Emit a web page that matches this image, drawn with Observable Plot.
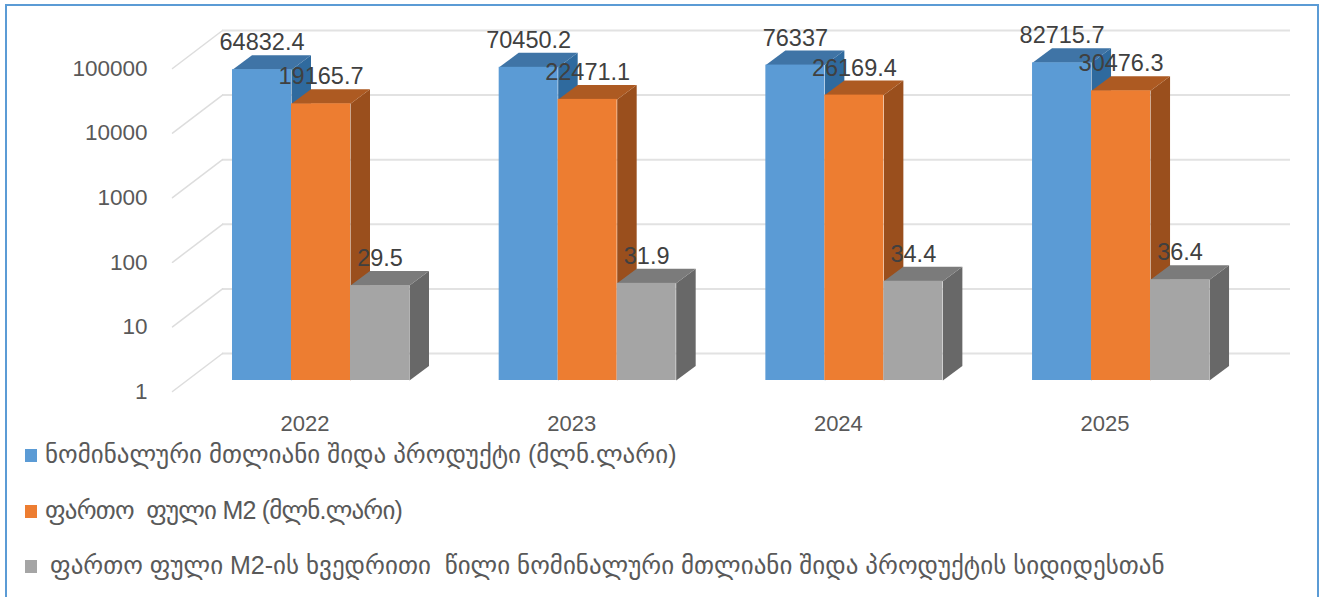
<!DOCTYPE html>
<html>
<head>
<meta charset="utf-8">
<script src="https://cdn.jsdelivr.net/npm/d3@7"></script>
<script src="https://cdn.jsdelivr.net/npm/@observablehq/plot@0.6"></script>
<style>
  html, body { margin: 0; padding: 0; background: #fff; overflow: hidden; }
  #frame { position: absolute; left: 5px; top: 4px; width: 1314px; height: 640px; border: 2px solid #5b9bd5; box-sizing: border-box; }
  #chart { position: absolute; left: 0; top: 0; }
  #chart svg { display: block; overflow: visible; }
  .row { position: absolute; left: 0; white-space: pre; font-family: "Liberation Sans", "DejaVu Sans", sans-serif; font-size: 25px; color: #595959; line-height: 28px; }
  .sw { position: absolute; width: 12px; height: 13px; }
</style>
</head>
<body>
<div id="frame"></div>
<div id="chart"></div>
<div id="legend"></div>
<script>
const years = ["2022", "2023", "2024", "2025"];
const gdp = [64832.4, 70450.2, 76337, 82715.7];
const m2 = [19165.7, 22471.1, 26169.4, 30476.3];
const share = [29.5, 31.9, 34.4, 36.4];
const valueLabels = [
  ["64832.4", "70450.2", "76337", "82715.7"],
  ["19165.7", "22471.1", "26169.4", "30476.3"],
  ["29.5", "31.9", "34.4", "36.4"]
];
const tickValues = [1, 10, 100, 1000, 10000, 100000];
const seriesNames = [
  "ნომინალური მთლიანი შიდა პროდუქტი (მლნ.ლარი)",
  "ფართო  ფული M2 (მლნ.ლარი)",
  "ფართო ფული M2-ის ხვედრითი  წილი ნომინალური მთლიანი შიდა პროდუქტის სიდიდესთან"
];
const frontColors = ["#5b9bd5", "#ed7d31", "#a5a5a5"];
const topColors = ["#3f74a6", "#ad5a22", "#7b7b7b"];
const sideColors = ["#2f6a9e", "#9a4f1d", "#686868"];

// Layout of the pseudo-3D box, in scale units
const pxPerDecade = 64.6, pxPerBar = 59, leftPx = 232, baseY = 380;
const groupStep = 4.52;
const depthX = 19.5 / pxPerBar;
const depthK = Math.pow(10, 14.5 / pxPerDecade);
const wallK = Math.pow(10, 27 / pxPerDecade);
const frontK = Math.pow(10, -11 / pxPerDecade);
const wallLeft = (222 - leftPx) / pxPerBar, wallRight = (1290 - leftPx) / pxPerBar, diagLeft = (172 - leftPx) / pxPerBar;

const series = [gdp, m2, share];
const width = 1319, height = 440, marginLeft = 150;

const barRows = series.map((vals, s) => vals.map((v, g) => ({
  x1: g * groupStep + s, x2: g * groupStep + s + 1, v, label: valueLabels[s][g], s, g
})));

function faces(rows) {
  const top = [], side = [];
  for (const b of rows) {
    const id = b.s + "-" + b.g;
    top.push(
      {id, x: b.x1, y: b.v}, {id, x: b.x2, y: b.v},
      {id, x: b.x2 + depthX, y: b.v * depthK}, {id, x: b.x1 + depthX, y: b.v * depthK});
    side.push(
      {id, x: b.x2, y: 1}, {id, x: b.x2 + depthX, y: depthK},
      {id, x: b.x2 + depthX, y: b.v * depthK}, {id, x: b.x2, y: b.v});
  }
  return {top, side};
}

const barMarks = barRows.flatMap((rows, s) => {
  const f = faces(rows);
  return [
    Plot.line(f.side, {x: "x", y: "y", z: "id", fill: sideColors[s], stroke: "none", curve: "linear"}),
    Plot.line(f.top, {x: "x", y: "y", z: "id", fill: topColors[s], stroke: "none", curve: "linear"}),
    Plot.rect(rows, {x1: "x1", x2: "x2", y1: () => 1, y2: "v", fill: frontColors[s], inset: 0})
  ];
});

const diagRows = tickValues.flatMap(t => [
  {t, x: diagLeft, y: t * frontK}, {t, x: wallLeft, y: t * wallK}
]);

const font = "'Liberation Sans', Arial, sans-serif";
const chart = Plot.plot({
  width, height, marginLeft, marginRight: 0, marginTop: 0, marginBottom: height - baseY,
  style: {background: "transparent", fontFamily: font},
  x: {type: "linear", domain: [(marginLeft - leftPx) / pxPerBar, (width - leftPx) / pxPerBar], label: null},
  y: {type: "log", domain: [1, Math.pow(10, baseY / pxPerDecade)], label: null},
  marks: [
    Plot.ruleY(tickValues, {y: d => d * wallK, x1: wallLeft, x2: wallRight, stroke: "#e2e2e2", strokeWidth: 2}),
    Plot.line(diagRows, {x: "x", y: "y", z: "t", stroke: "#dddddd", strokeWidth: 1.5, curve: "linear"}),
    ...barMarks,
    Plot.axisY({ticks: tickValues, tickFormat: d => String(d), tickSize: 0, tickPadding: 3, dy: 11, label: null,
      fontSize: 22.5, fill: "#595959", fontFamily: font}),
    Plot.axisX({ticks: years.map((_, g) => g * groupStep + 1.5), tickFormat: (d, i) => years[i], tickSize: 0, tickPadding: 35, dx: -16, label: null,
      fontSize: 22, fill: "#595959", fontFamily: font}),
    ...barRows.map(rows => Plot.text(rows, {x: d => (d.x1 + d.x2) / 2, y: "v", text: "label", dy: -27, fontSize: 23.5, fill: "#404040", fontFamily: font}))
  ]
});
document.getElementById("chart").appendChild(chart);

const legendTops = [455, 511, 566], swatchX = 25, textX = [45, 45, 50], rowSpacing = ["0px", "-0.8px", "0px"];
const legend = document.getElementById("legend");
seriesNames.forEach((name, i) => {
  const sw = document.createElement("div");
  sw.className = "sw";
  sw.style.cssText = `left:${swatchX}px;top:${legendTops[i] - 6}px;background:${frontColors[i]}`;
  const t = document.createElement("div");
  t.className = "row";
  t.textContent = name;
  t.style.left = textX[i] + "px";
  t.style.top = (legendTops[i] - 15) + "px";
  t.style.letterSpacing = rowSpacing[i];
  legend.append(sw, t);
});
</script>
</body>
</html>
